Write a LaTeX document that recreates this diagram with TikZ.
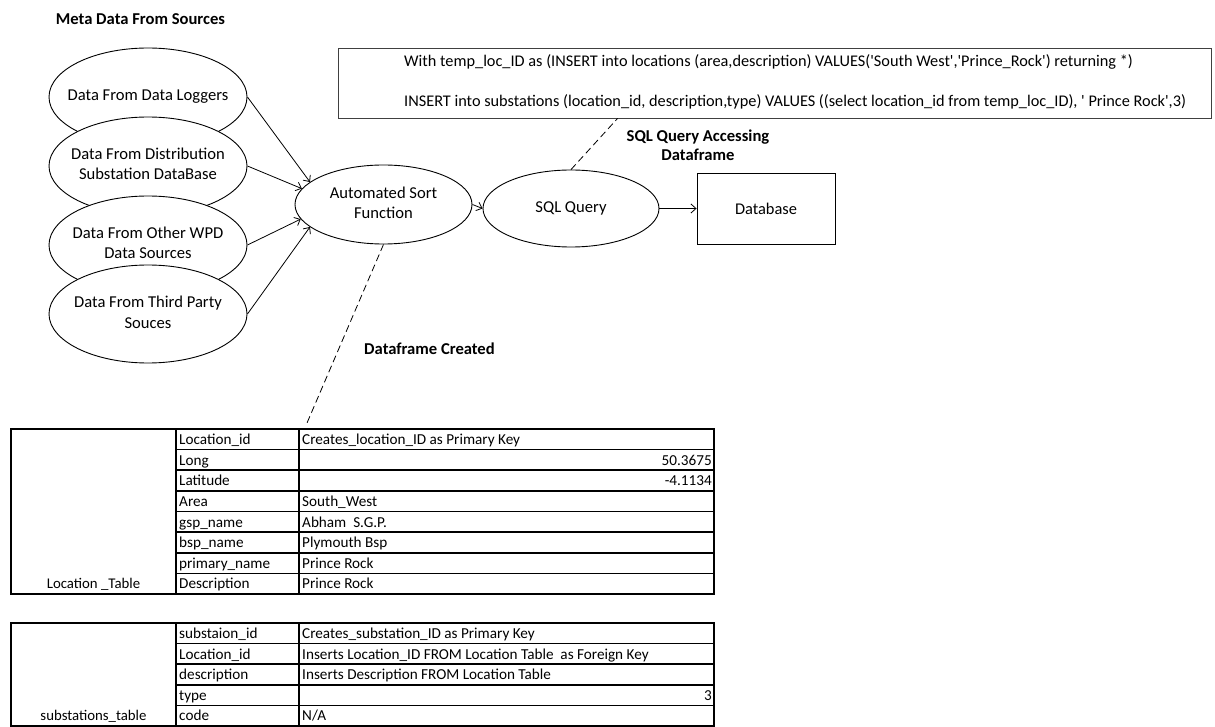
\documentclass[tikz,border=0pt]{standalone}
\usepackage{fontspec}
\setmainfont{Carlito}[Ligatures=TeXOff]
\usetikzlibrary{shapes.geometric,arrows.meta}
\newcommand\ctext[1]{\makebox[0pt]{\begin{tabular}{@{}c@{}}#1\end{tabular}}}
\begin{document}
\begin{tikzpicture}[x=1pt,y=-1pt,
  src/.style={ellipse, draw, fill=white, line width=0.9pt, minimum width=198pt, minimum height=98pt, inner sep=0pt, font=\fontsize{16.6}{20}\selectfont},
  proc/.style={ellipse, draw, fill=white, line width=0.9pt, inner sep=0pt, font=\fontsize{16.6}{19.5}\selectfont},
  boxnode/.style={draw, rectangle, line width=0.9pt, inner sep=0pt},
  conn/.style={-{Straight Barb[length=5pt,width=9pt]}, line width=0.8pt},
  dashline/.style={dash pattern=on 7pt off 4pt, line width=0.8pt},
  lbl/.style={font=\fontsize{16.6}{19}\selectfont\bfseries, align=center, inner sep=0pt},
  cell/.style={anchor=base west, inner sep=0pt, font=\fontsize{15.2}{16}\selectfont},
  rcell/.style={anchor=base east, inner sep=0pt, font=\fontsize{15.2}{16}\selectfont},
  ccell/.style={anchor=base, inner sep=0pt, font=\fontsize{14.8}{16}\selectfont},
  tline/.style={line width=1.6pt}]
\useasboundingbox (0,0) rectangle (1215,727);

\node[lbl] (title) at (140.5,19) {Meta Data From Sources};

\node[src] (s1) at (148,97) {\ctext{Data From Data Loggers}};
\node[src] (s2) at (148,166) {\ctext{Data From Distribution\\Substation DataBase}};
\node[src] (s3) at (148,245) {\ctext{Data From Other WPD\\Data Sources}};
\node[src] (s4) at (148,314) {\ctext{Data From Third Party\\Souces}};

\node[proc, minimum width=177pt, minimum height=79pt] (auto) at (383.5,204.5) {\ctext{Automated Sort\\Function}};
\node[proc, minimum width=176pt, minimum height=77pt] (sql) at (571,208.5) {\ctext{SQL Query}};
\node[boxnode, minimum width=138pt, minimum height=71pt, font=\fontsize{16.4}{19.5}\selectfont] (db) at (766,208.5) {Database};

\node[boxnode, draw=black!75, minimum width=873pt, minimum height=70pt] (qbox) at (774.5,83) {};
\node[anchor=west, inner sep=0pt, align=left, font=\fontsize{16.3}{40}\selectfont] (qtext) at (404,82) {With temp\_loc\_ID as (INSERT into locations (area,description) VALUES('South West','Prince\_Rock') returning *)\\INSERT into substations (location\_id, description,type) VALUES ((select location\_id from temp\_loc\_ID), ' Prince Rock',3)};

\draw[conn] (s1.east) -- (auto.163);
\draw[conn] (s2.east) -- (auto.169);
\draw[conn] (s3.east) -- (auto.190);
\draw[conn] (s4.east) -- (auto.197);
\draw[conn] (auto.east) -- (sql.west);
\draw[conn] (sql.east) -- (db.west);

\draw[dashline] (sql.north) -- ([xshift=280pt]qbox.south west);
\node[lbl] (sqlacc) at (698,145) {SQL Query Accessing\\Dataframe};

\coordinate (df) at (307,423);
\draw[dashline] (auto.south) -- (df);
\node[lbl] (dfc) at (429.5,349) {Dataframe Created};

% Location table
\draw[tline] (11,429) rectangle (714,594);
\draw[tline] (176,429) -- (176,594);
\draw[tline] (299,429) -- (299,594);
\foreach \i in {1,...,7} {
  \draw[tline] (176,429+\i*20.625) -- (714,429+\i*20.625);
}
\foreach \a/\b [count=\i from 0] in {Location\_id/Creates\_location\_ID as Primary Key, Long/, Latitude/, Area/South\_West, gsp\_name/Abham\ \ S.G.P., bsp\_name/Plymouth Bsp, primary\_name/Prince Rock, Description/Prince Rock} {
  \node[cell] at (179,429+\i*20.625+15.5) {\a};
  \node[cell] at (302,429+\i*20.625+15.5) {\b};
}
\node[rcell] at (712,429+1*20.625+15.5) {50.3675};
\node[rcell] at (712,429+2*20.625+15.5) {-4.1134};
\node[ccell] at (93.5,429+7*20.625+15.5) {Location \_Table};

% substations table
\draw[tline] (11,623) rectangle (714,726);
\draw[tline] (176,623) -- (176,726);
\draw[tline] (299,623) -- (299,726);
\foreach \i in {1,...,4} {
  \draw[tline] (176,623+\i*20.6) -- (714,623+\i*20.6);
}
\foreach \a/\b [count=\i from 0] in {substaion\_id/Creates\_substation\_ID as Primary Key, Location\_id/Inserts Location\_ID FROM Location Table\ \ as Foreign Key, description/Inserts Description FROM Location Table, type/, code/{N/A}} {
  \node[cell] at (179,623+\i*20.6+15.5) {\a};
  \node[cell] at (302,623+\i*20.6+15.5) {\b};
}
\node[rcell] at (712,623+3*20.6+15.5) {3};
\node[ccell] at (93.5,623+4*20.6+15.5) {substations\_table};
\end{tikzpicture}
\end{document}
